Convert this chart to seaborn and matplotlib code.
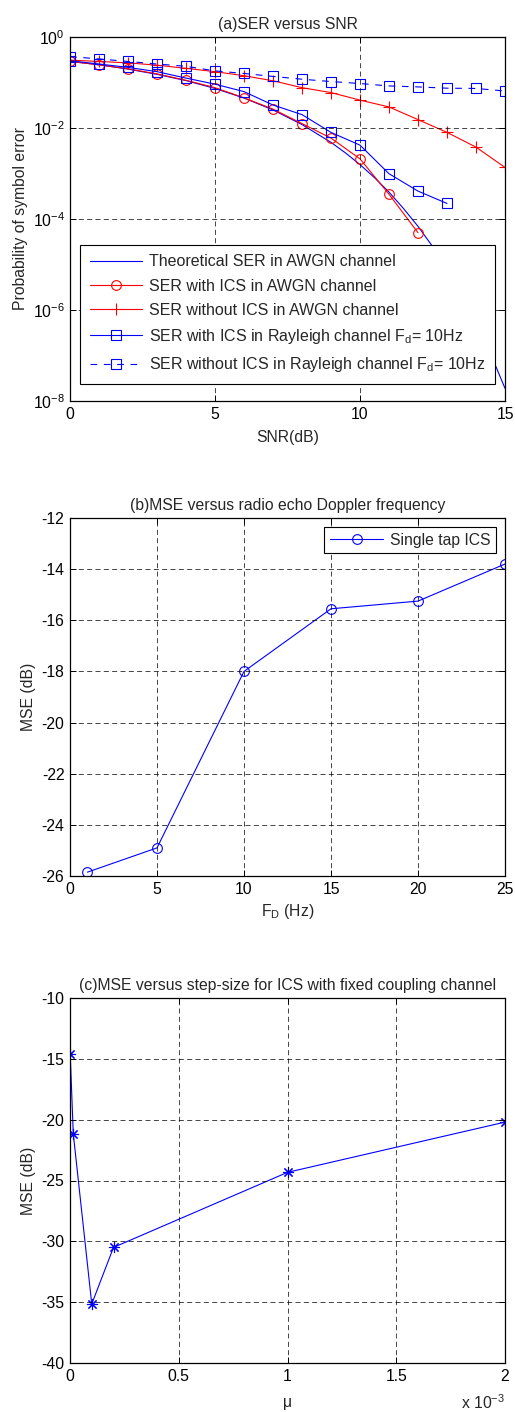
import numpy as np
import pandas as pd
import seaborn as sns
import matplotlib
matplotlib.use("Agg")
from matplotlib import pyplot as plt
from matplotlib.ticker import FixedLocator, FuncFormatter, NullLocator

# (a) SER versus SNR
snr_theory = [0, 1, 2, 3, 4, 5, 6, 7, 8, 9, 9.5, 10, 10.5, 11, 11.5, 12, 12.5,
              13, 13.5, 14, 14.5, 15]
ser_theory = [0.292, 0.245, 0.197, 0.151, 0.110, 0.074, 0.0455, 0.0250, 0.0119,
              0.00483, 0.00283, 0.00157, 8.1e-4, 3.9e-4, 1.7e-4, 6.9e-5, 2.5e-5,
              7.9e-6, 2.2e-6, 5.4e-7, 1.1e-7, 1.9e-8]
snr_db = [0, 1, 2, 3, 4, 5, 6, 7, 8, 9, 10, 11, 12, 13, 14, 15]
snr_ics_awgn = [0, 1, 2, 3, 4, 5, 6, 7, 8, 9, 10, 11, 12]
ser_ics_awgn = [0.29, 0.245, 0.20, 0.155, 0.112, 0.077, 0.046, 0.026, 0.0125,
                0.006, 0.0021, 3.5e-4, 5e-5]
ser_noics_awgn = [0.31, 0.29, 0.27, 0.24, 0.205, 0.173, 0.141, 0.109, 0.077,
                  0.060, 0.041, 0.029, 0.0153, 0.0080, 0.0038, 0.00136]
snr_ics_ray = [0, 1, 2, 3, 4, 5, 6, 7, 8, 9, 10, 11, 12, 13]
ser_ics_ray = [0.30, 0.255, 0.215, 0.173, 0.125, 0.092, 0.063, 0.032, 0.0197,
               0.0080, 0.0042, 0.00099, 4.1e-4, 2.2e-4]
ser_noics_ray = [0.37, 0.33, 0.29, 0.255, 0.227, 0.18, 0.158, 0.136, 0.118,
                 0.105, 0.095, 0.084, 0.080, 0.075, 0.074, 0.065]

# (b) MSE versus Doppler frequency
fd_hz = [1, 5, 10, 15, 20, 25]
mse_fd = [-25.85, -24.9, -18.0, -15.55, -15.25, -13.8]

# (c) MSE versus step-size
mu = [1e-6, 1.5e-5, 1e-4, 2e-4, 1e-3, 2e-3]
mse_mu = [-14.6, -21.15, -35.15, -30.5, -24.33, -20.2]

sns.set_style("ticks")
plt.rcParams["font.family"] = ["Liberation Sans", "DejaVu Sans"]
plt.rcParams["mathtext.fontset"] = "custom"
plt.rcParams["mathtext.rm"] = "Liberation Sans"
plt.rcParams["mathtext.it"] = "Liberation Sans"
plt.rcParams["axes.unicode_minus"] = False
FS = 11.3
plt.rcParams["font.size"] = FS

W, H = 515, 1412
fig = plt.figure(figsize=(W / 100, H / 100), dpi=100)


def px_axes(left, top, right, bottom):
    return fig.add_axes([left / W, 1 - bottom / H, (right - left) / W, (bottom - top) / H])


def style_axes(ax):
    ax.set_facecolor("white")
    for s in ax.spines.values():
        s.set_visible(True)
        s.set_color("black")
        s.set_linewidth(0.9)
    ax.tick_params(direction="in", top=True, right=True, length=4, width=0.7,
                   labelsize=FS, colors="black", pad=4)
    ax.grid(True, color="black", linestyle=(0, (6, 4)), linewidth=0.6, alpha=0.85)
    ax.set_axisbelow(False)


blue = (0, 0, 1)
red = (1, 0, 0)

# ---- (a)
ax1 = px_axes(70, 37, 505, 401)
sns.lineplot(x=snr_theory, y=ser_theory, ax=ax1, color=blue, lw=0.8,
             label="Theoretical SER in AWGN channel")
sns.lineplot(x=snr_ics_awgn, y=ser_ics_awgn, ax=ax1, color=red, lw=0.8,
             marker="o", ms=7, mfc="none", mec=red, mew=0.8,
             label="SER with ICS in AWGN channel")
sns.lineplot(x=snr_db, y=ser_noics_awgn, ax=ax1, color=red, lw=0.8,
             marker="+", ms=9, mec=red, mew=0.8,
             label="SER without ICS in AWGN channel")
sns.lineplot(x=snr_ics_ray, y=ser_ics_ray, ax=ax1, color=blue, lw=0.8,
             marker="s", ms=7.5, mfc="none", mec=blue, mew=0.8,
             label="SER with ICS in Rayleigh channel F$_d$= 10Hz")
sns.lineplot(x=snr_db, y=ser_noics_ray, ax=ax1, color=blue, lw=0.8,
             linestyle=(0, (6, 6)),
             marker="s", ms=7.5, mfc="none", mec=blue, mew=0.8,
             label="SER without ICS in Rayleigh channel F$_d$= 10Hz")
ax1.set_yscale("log")
ax1.set_xlim(0, 15)
ax1.set_ylim(1e-8, 1)
ax1.xaxis.set_major_locator(FixedLocator([0, 5, 10, 15]))
ax1.yaxis.set_major_locator(FixedLocator([1e-8, 1e-6, 1e-4, 1e-2, 1]))
ax1.yaxis.set_minor_locator(NullLocator())
style_axes(ax1)
ax1.set_title("(a)SER versus SNR", fontsize=FS, pad=6)
ax1.set_xlabel("SNR(dB)", fontsize=FS, labelpad=6)
ax1.set_ylabel("Probability of symbol error", fontsize=FS, labelpad=3)
leg = ax1.legend(loc="lower left", bbox_to_anchor=(0.023, 0.047), fontsize=11.5,
                 frameon=True, fancybox=False, edgecolor="black", framealpha=1,
                 handlelength=3.3, handletextpad=0.4, borderpad=0.6,
                 labelspacing=0.58, borderaxespad=0)
leg.get_frame().set_linewidth(0.8)

# ---- (b)
ax2 = px_axes(70, 518, 505, 876)
sns.lineplot(x=fd_hz, y=mse_fd, ax=ax2, color=blue, lw=0.8,
             marker="o", ms=7, mfc="none", mec=blue, mew=0.8,
             label="Single tap ICS")
ax2.set_xlim(0, 25)
ax2.set_ylim(-26, -12)
ax2.xaxis.set_major_locator(FixedLocator([0, 5, 10, 15, 20, 25]))
ax2.yaxis.set_major_locator(FixedLocator(np.arange(-26, -11, 2)))
style_axes(ax2)
ax2.set_title("(b)MSE versus radio echo Doppler frequency", fontsize=FS, pad=6)
ax2.set_xlabel("F$_D$ (Hz)", fontsize=FS, labelpad=4)
ax2.set_ylabel("MSE (dB)", fontsize=FS, labelpad=4)
leg2 = ax2.legend(loc="upper right", fontsize=FS, frameon=True, fancybox=False,
                  edgecolor="black", framealpha=1, handlelength=3.4,
                  handletextpad=0.4, borderpad=0.35, borderaxespad=0.6)
leg2.get_frame().set_linewidth(0.8)

# ---- (c)
ax3 = px_axes(70, 998, 505, 1363)
sns.lineplot(x=mu, y=mse_mu, ax=ax3, color=blue, lw=0.8,
             marker=(8, 2, 0), ms=8, mec=blue, mew=0.8)
ax3.set_xlim(0, 2e-3)
ax3.set_ylim(-40, -10)
ax3.xaxis.set_major_locator(FixedLocator([0, 0.5e-3, 1e-3, 1.5e-3, 2e-3]))
ax3.xaxis.set_major_formatter(FuncFormatter(lambda v, p: f"{v * 1e3:g}"))
ax3.yaxis.set_major_locator(FixedLocator(np.arange(-40, -9, 5)))
style_axes(ax3)
ax3.set_title("(c)MSE versus step-size for ICS with fixed coupling channel",
              fontsize=FS, pad=6)
ax3.set_xlabel("\u03bc", fontsize=FS, labelpad=8)
ax3.set_ylabel("MSE (dB)", fontsize=FS, labelpad=4)
ax3.text(1.0, -0.108, "x 10$^{-3}$", transform=ax3.transAxes, ha="right",
         va="center", fontsize=FS)

fig.savefig("out.png", dpi=100, facecolor="white")
